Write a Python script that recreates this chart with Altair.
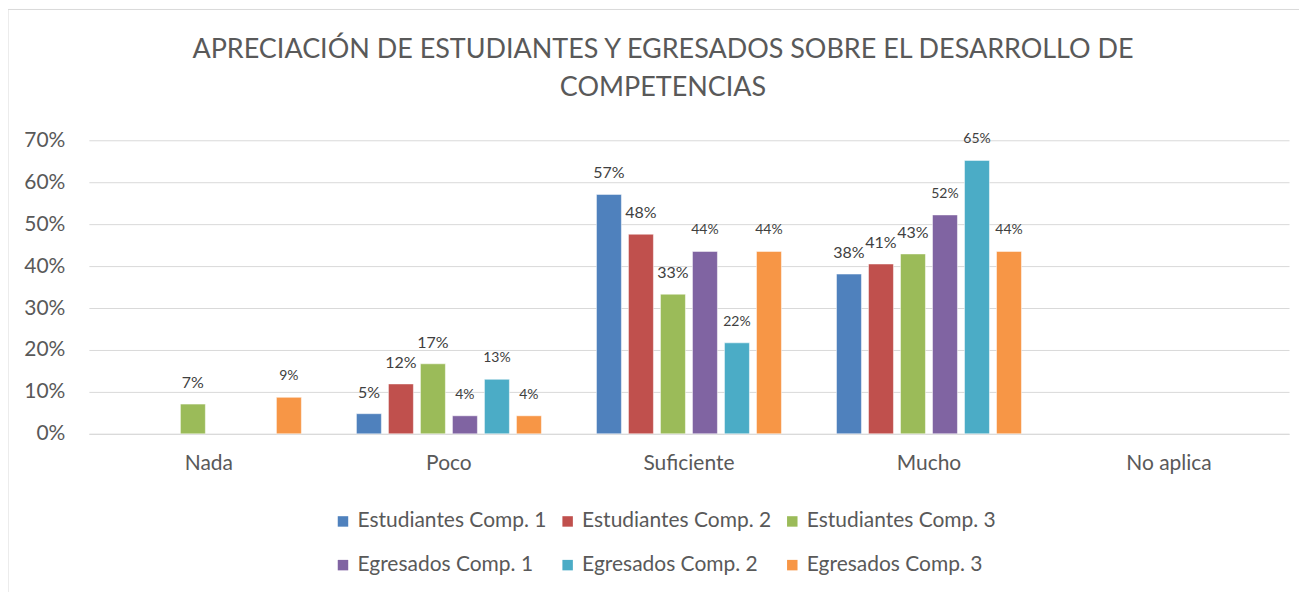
import altair as alt
import pandas as pd

categories = ["Nada", "Poco", "Suficiente", "Mucho", "No aplica"]
series = ["Estudiantes Comp. 1", "Estudiantes Comp. 2", "Estudiantes Comp. 3",
          "Egresados Comp. 1", "Egresados Comp. 2", "Egresados Comp. 3"]
colors = ["#4F81BD", "#C0504D", "#9BBB59", "#8064A2", "#4BACC6", "#F79646"]

est1 = [0.0, 0.048, 0.571, 0.381, 0.0]
est2 = [0.0, 0.119, 0.476, 0.405, 0.0]
est3 = [0.071, 0.167, 0.333, 0.429, 0.0]
egr1 = [0.0, 0.043, 0.435, 0.522, 0.0]
egr2 = [0.0, 0.130, 0.217, 0.652, 0.0]
egr3 = [0.087, 0.043, 0.435, 0.435, 0.0]
y_ticks = [0, 0.1, 0.2, 0.3, 0.4, 0.5, 0.6, 0.7]

rows = []
for s, vals in zip(series, [est1, est2, est3, egr1, egr2, egr3]):
    for c, v in zip(categories, vals):
        rows.append({"cat": c, "serie": s, "valor": v,
                     "grupo": "Est" if s.startswith("Est") else "Egr"})
df = pd.DataFrame(rows)

FONT = "Lato"
GRAY = "#595959"

x = alt.X("cat:N", sort=categories,
          scale=alt.Scale(domain=categories, paddingInner=0.2, paddingOuter=0.1),
          axis=alt.Axis(title=None, labelAngle=0, labelFontSize=21, labelColor=GRAY,
                        labelFont=FONT, labelPadding=19, ticks=False, tickSize=0,
                        domainColor="#d9d9d9", domainWidth=1))
xo = alt.XOffset("serie:N", sort=series,
                 scale=alt.Scale(domain=series, paddingInner=0.22, paddingOuter=0.11))
y = alt.Y("valor:Q", scale=alt.Scale(domain=[0, 0.7]),
          axis=alt.Axis(title=None, format=".0%", values=y_ticks, labelFontSize=21,
                        labelColor=GRAY, labelFont=FONT, labelPadding=24, ticks=False,
                        tickSize=0, domain=False, gridColor="#d9d9d9", gridWidth=1))

base = alt.Chart(df).transform_filter("datum.valor > 0")

bars = base.mark_bar(stroke="white", strokeWidth=1, strokeOpacity=0.5).encode(
    x=x, xOffset=xo, y=y,
    color=alt.Color("serie:N", sort=series,
                    scale=alt.Scale(domain=series, range=colors),
                    legend=alt.Legend(title=None, orient="none", legendX=244, legendY=371,
                                      direction="horizontal", columns=3,
                                      symbolType="square", symbolSize=110,
                                      symbolStrokeWidth=0, labelFontSize=21,
                                      labelFont=FONT, labelColor=GRAY, labelOffset=4,
                                      columnPadding=10, rowPadding=22, labelLimit=400)),
)

labels = base.mark_text(dy=-21, baseline="middle", color="#404040", font=FONT).encode(
    x=x, xOffset=xo, y=y,
    text=alt.Text("valor:Q", format=".0%"),
    size=alt.Size("grupo:N", scale=alt.Scale(domain=["Est", "Egr"], range=[16, 14]),
                  legend=None),
)

frame = alt.Chart(alt.Data(values=[{}])).mark_rect(
    fill="transparent", stroke="#d9d9d9", strokeWidth=1
).encode(x=alt.value(-81), x2=alt.value(1216), y=alt.value(-131), y2=alt.value(470))

chart = alt.layer(frame, bars, labels).properties(
    width=1202, height=294,
    title=alt.TitleParams(
        ["APRECIACIÓN DE ESTUDIANTES Y EGRESADOS SOBRE EL DESARROLLO DE", "COMPETENCIAS"],
        fontSize=27, font=FONT, fontWeight="normal", color=GRAY, lineHeight=38,
        offset=-93, dx=-26, anchor="middle"),
    autosize=alt.AutoSizeParams(type="none"),
    padding={"left": 81, "top": 132, "right": 10, "bottom": 200},
).configure_view(stroke=None)

chart.save("out.html", embed_options={"renderer": "svg", "actions": False})
